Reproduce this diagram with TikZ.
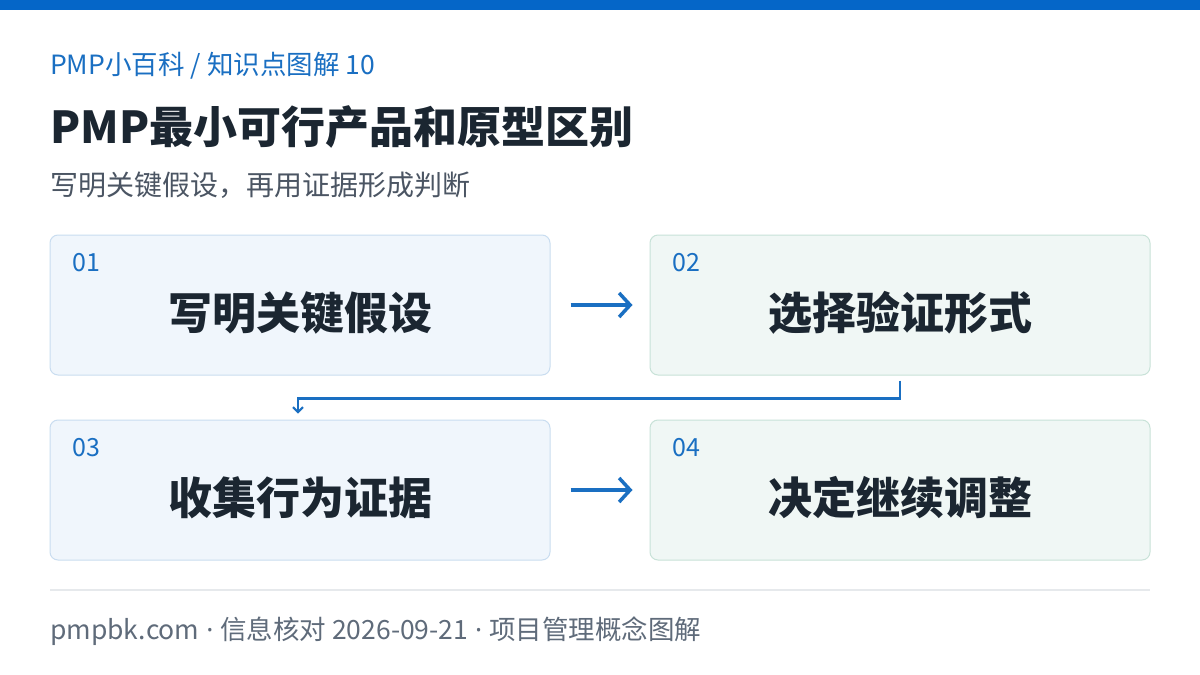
\documentclass[tikz,border=0pt]{standalone}
\usepackage{fontspec}
\setmainfont{Noto Sans CJK SC}
\newfontfamily\latinfont{Noto Sans}
\usetikzlibrary{arrows.meta}
\definecolor{topbar}{HTML}{0566C8}
\definecolor{accent}{HTML}{1A6FC2}
\definecolor{titlec}{HTML}{1B2631}
\definecolor{subc}{HTML}{4B5563}
\definecolor{footc}{HTML}{5F6B7A}
\definecolor{footline}{HTML}{E6E9EC}
\definecolor{bluefill}{HTML}{F0F6FC}
\definecolor{blueline}{HTML}{C9DDF0}
\definecolor{greenfill}{HTML}{F0F7F5}
\definecolor{greenline}{HTML}{C8E2D8}
\tikzset{
  stepbox/.style={draw, line width=1pt, rounded corners=8pt, minimum width=500pt, minimum height=140pt, inner sep=0pt},
  bluebox/.style={stepbox, fill=bluefill, draw=blueline},
  greenbox/.style={stepbox, fill=greenfill, draw=greenline},
  numlabel/.style={anchor=base west, text=accent, font=\fontsize{25}{28}\selectfont, inner sep=0pt},
  maintext/.style={text=titlec, font=\fontsize{44}{50}\selectfont\bfseries, inner sep=0pt},
  flowarrow/.style={draw=accent, line width=3.5pt, -{Straight Barb[length=11pt, width=24pt, line width=3.5pt]}},
  bendarrow/.style={draw=accent, line width=2.5pt, -{Straight Barb[length=5pt, width=10pt, line width=2pt]}},
}
\newcommand{\mydot}{{\latinfont\ ·\ }}
\begin{document}
\begin{tikzpicture}[x=1pt, y=-1pt]
\useasboundingbox (0,0) rectangle (1200,675);
\fill[white] (0,0) rectangle (1200,675);
\fill[topbar] (0,0) rectangle (1200,10);

\node[anchor=base west, inner sep=0pt, text=accent, font=\fontsize{26.5}{30}\selectfont] (hdr) at (50,74) {PMP小百科 / 知识点图解 10};
\node[anchor=base west, inner sep=0pt, text=titlec, font=\fontsize{44}{50}\selectfont\bfseries] (ttl) at (50,143) {PMP最小可行产品和原型区别};
\node[anchor=base west, inner sep=0pt, text=subc, font=\fontsize{28}{30}\selectfont] (sub) at (50,195) {写明关键假设，再用证据形成判断};

\node[bluebox]  (b1) at (300,305) {};
\node[greenbox] (b2) at (900,305) {};
\node[bluebox]  (b3) at (300,490) {};
\node[greenbox] (b4) at (900,490) {};

\node[numlabel] (n1) at (72,271) {01};
\node[numlabel] (n2) at (672,271) {02};
\node[numlabel] (n3) at (72,456) {03};
\node[numlabel] (n4) at (672,456) {04};

\node[maintext] (t1) at (300,313) {写明关键假设};
\node[maintext] (t2) at (900,313) {选择验证形式};
\node[maintext] (t3) at (300,498) {收集行为证据};
\node[maintext] (t4) at (900,498) {决定继续调整};

\draw[flowarrow] ([xshift=20pt]b1.east) -- ([xshift=-17pt]b2.west);
\draw[flowarrow] ([xshift=20pt]b3.east) -- ([xshift=-17pt]b4.west);
\draw[bendarrow] ([yshift=-5pt]b2.south) -- ++(0,18) -| ([xshift=-2pt,yshift=6pt]b3.north);

\draw[footline, line width=1.5pt] (50,590) -- (1150,590);
\node[anchor=base west, inner sep=0pt, text=footc, font=\fontsize{26.5}{30}\selectfont] (foot) at (50,639) {pmpbk.com\mydot 信息核对 2026-09-21\mydot 项目管理概念图解};
\end{tikzpicture}
\end{document}
